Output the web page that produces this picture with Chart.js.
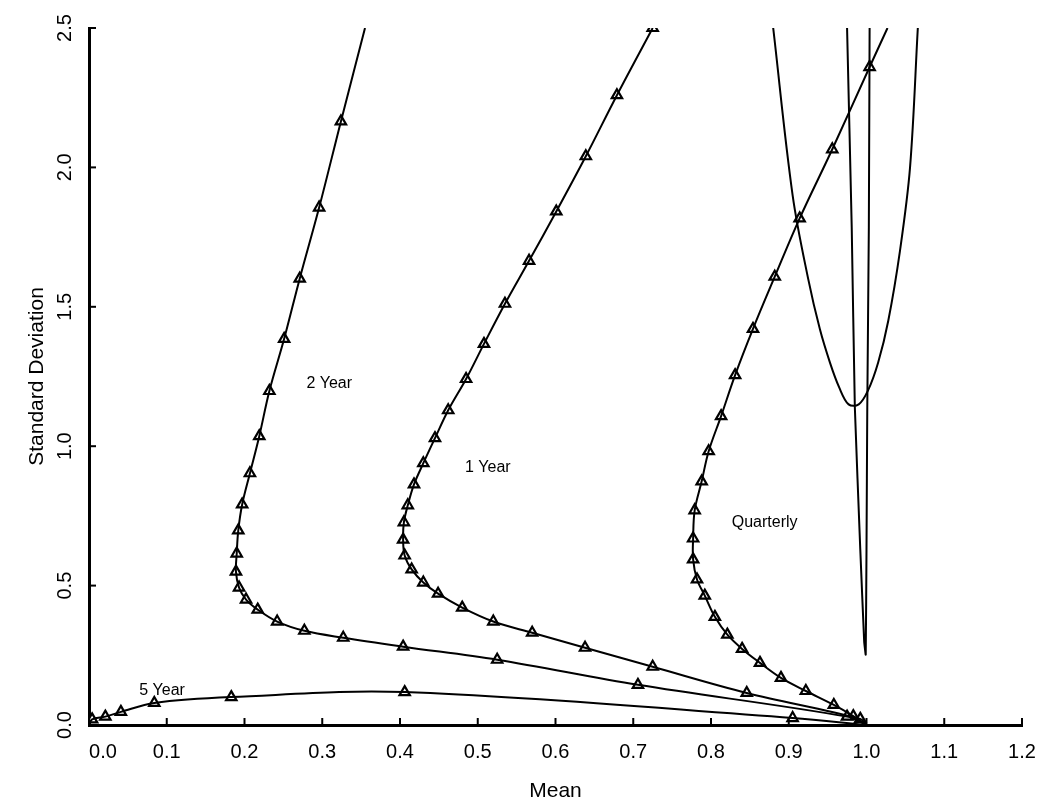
<!DOCTYPE html>
<html>
<head>
<meta charset="utf-8">
<script src="https://cdn.jsdelivr.net/npm/chart.js@4.4.0/dist/chart.umd.min.js"></script>
<style>
  html, body { margin: 0; padding: 0; background: #fff; }
  #wrap { width: 1049px; height: 808px; }
</style>
</head>
<body>
<div id="wrap"><canvas id="frontierChart" width="1049" height="808"></canvas></div>
<script>
// tick values
const xTicks = [0.0, 0.1, 0.2, 0.3, 0.4, 0.5, 0.6, 0.7, 0.8, 0.9, 1.0, 1.1, 1.2];
const yTicks = [0.0, 0.5, 1.0, 1.5, 2.0, 2.5];

// 5 Year (markers)
const fiveYearMean = [0.004, 0.021, 0.041, 0.084, 0.183, 0.406, 0.905];
const fiveYearStd  = [0.020, 0.030, 0.047, 0.079, 0.100, 0.118, 0.025];
const fiveYearStart = [0.0, 0.0];
const fiveYearEnd = [1.0, 0.0];

// 2 Year (markers)
const twoYearMean = [0.324, 0.296, 0.271, 0.251, 0.232, 0.219, 0.207, 0.197, 0.192, 0.190, 0.189,
                     0.193, 0.202, 0.217, 0.242, 0.277, 0.327, 0.404, 0.525, 0.706, 0.975];
const twoYearStd  = [2.165, 1.856, 1.601, 1.385, 1.198, 1.036, 0.903, 0.791, 0.698, 0.615, 0.550,
                     0.493, 0.450, 0.414, 0.371, 0.338, 0.313, 0.281, 0.234, 0.144, 0.030];
const twoYearStart = [0.355, 2.5];
const twoYearEnd = [1.0, 0.0];

// 1 Year (markers)
const oneYearMean = [0.725, 0.679, 0.639, 0.601, 0.566, 0.535, 0.508, 0.485, 0.462, 0.445, 0.430, 0.418,
                     0.410, 0.405, 0.404, 0.406, 0.415, 0.430, 0.449, 0.480, 0.520, 0.570, 0.638, 0.725,
                     0.846, 0.992];
const oneYearStd  = [2.500, 2.259, 2.040, 1.842, 1.665, 1.511, 1.367, 1.241, 1.129, 1.029, 0.939, 0.863,
                     0.788, 0.727, 0.665, 0.608, 0.558, 0.511, 0.471, 0.421, 0.371, 0.331, 0.277, 0.209,
                     0.115, 0.022];
const oneYearEnd = [1.0, 0.0];

// Quarterly (markers)
const quarterlyMean = [1.004, 0.956, 0.914, 0.882, 0.854, 0.831, 0.813, 0.797, 0.788, 0.779, 0.777,
                       0.777, 0.782, 0.792, 0.805, 0.821, 0.840, 0.863, 0.890, 0.922, 0.958, 0.983];
const quarterlyStd  = [2.360, 2.065, 1.817, 1.608, 1.421, 1.255, 1.108, 0.982, 0.874, 0.770, 0.669,
                       0.594, 0.522, 0.464, 0.388, 0.324, 0.273, 0.223, 0.169, 0.122, 0.072, 0.032];
const quarterlyStart = [1.027, 2.5];
const quarterlyEnd = [1.0, 0.0];

// frontier without markers (U curve on the right)
const hyperMean = [0.880, 0.905, 0.925, 0.940, 0.953, 0.965, 0.977, 0.990, 1.002, 1.015, 1.028, 1.043, 1.056, 1.066];
const hyperStd  = [2.500, 1.900, 1.600, 1.420, 1.300, 1.210, 1.150, 1.150, 1.200, 1.300, 1.450, 1.700, 2.000, 2.500];

// narrow V
const vMean = [0.975, 0.981, 0.985, 0.992, 0.997, 0.999, 1.000, 1.001, 1.003, 1.004];
const vStd  = [2.500, 1.784, 1.140, 0.630, 0.300, 0.252, 0.630, 1.140, 1.784, 2.500];

function zip(xs, ys) {
    return xs.map((x, i) => ({ x: x, y: ys[i] }));
}
function pathOf(start, xs, ys, end) {
    let pts = zip(xs, ys);
    if (start) pts.unshift({ x: start[0], y: start[1] });
    if (end) pts.push({ x: end[0], y: end[1] });
    return pts;
}

const FONT = '"Liberation Sans", Arial, sans-serif';

function lineSet(data) {
    return {
        data: data,
        showLine: true,
        borderColor: '#000',
        borderWidth: 2,
        pointRadius: 0,
        tension: 0.35,
        fill: false
    };
}
function markSet(data) {
    return {
        data: data,
        showLine: false,
        pointStyle: 'triangle',
        pointRadius: 6,
        pointBorderWidth: 2.2,
        pointBorderColor: '#000',
        pointBackgroundColor: '#fff'
    };
}

// curve names drawn inside the plot
const curveLabels = [
    { text: '2 Year', x: 0.309, y: 1.223 },
    { text: '1 Year', x: 0.513, y: 0.924 },
    { text: 'Quarterly', x: 0.869, y: 0.727 },
    { text: '5 Year', x: 0.094, y: 0.125 }
];

const axisPainter = {
    id: 'axisPainter',
    afterDraw(chart) {
        const ctx = chart.ctx;
        const xs = chart.scales.x, ys = chart.scales.y;
        const area = chart.chartArea;
        ctx.save();
        ctx.strokeStyle = '#000';
        ctx.fillStyle = '#000';
        ctx.lineWidth = 2;

        // inward tick marks
        xTicks.forEach(v => {
            const px = xs.getPixelForValue(v);
            ctx.beginPath();
            ctx.moveTo(px, area.bottom);
            ctx.lineTo(px, area.bottom - 7);
            ctx.stroke();
        });
        yTicks.forEach(v => {
            const py = ys.getPixelForValue(v);
            ctx.beginPath();
            ctx.moveTo(area.left, py);
            ctx.lineTo(area.left + 7, py);
            ctx.stroke();
        });

        // x tick labels
        ctx.font = '20px ' + FONT;
        ctx.textAlign = 'center';
        ctx.textBaseline = 'middle';
        xTicks.forEach(v => {
            const px = Math.max(xs.getPixelForValue(v), area.left + 14);
            ctx.fillText(v.toFixed(1), px, area.bottom + 27);
        });

        // y tick labels, rotated
        yTicks.forEach(v => {
            const py = ys.getPixelForValue(v);
            ctx.save();
            ctx.translate(area.left - 24, py);
            ctx.rotate(-Math.PI / 2);
            ctx.fillText(v.toFixed(1), 0, 0);
            ctx.restore();
        });

        // axis titles
        ctx.font = '21px ' + FONT;
        ctx.fillText('Mean', (area.left + area.right) / 2, area.bottom + 66);
        ctx.save();
        ctx.translate(area.left - 52, (area.top + area.bottom) / 2);
        ctx.rotate(-Math.PI / 2);
        ctx.fillText('Standard Deviation', 0, 0);
        ctx.restore();

        // curve labels
        ctx.font = '16px ' + FONT;
        curveLabels.forEach(l => {
            ctx.fillText(l.text, xs.getPixelForValue(l.x), ys.getPixelForValue(l.y));
        });
        ctx.restore();
    }
};

document.addEventListener('DOMContentLoaded', function() {
    const chartCtx = document.getElementById('frontierChart').getContext('2d');
    new Chart(chartCtx, {
        type: 'scatter',
        data: {
            datasets: [
                lineSet(pathOf(fiveYearStart, fiveYearMean, fiveYearStd, fiveYearEnd)),
                lineSet(pathOf(twoYearStart, twoYearMean, twoYearStd, twoYearEnd)),
                lineSet(pathOf(null, oneYearMean, oneYearStd, oneYearEnd)),
                lineSet(pathOf(quarterlyStart, quarterlyMean, quarterlyStd, quarterlyEnd)),
                lineSet(zip(hyperMean, hyperStd)),
                Object.assign(lineSet(zip(vMean, vStd)), { tension: 0.1 }),
                markSet(zip(fiveYearMean, fiveYearStd)),
                markSet(zip(twoYearMean, twoYearStd)),
                markSet(zip(oneYearMean, oneYearStd)),
                markSet(zip(quarterlyMean, quarterlyStd))
            ]
        },
        options: {
            responsive: false,
            animation: false,
            devicePixelRatio: 1,
            layout: { padding: { top: 28, right: 27, left: 0, bottom: 0 } },
            plugins: {
                legend: { display: false },
                tooltip: { enabled: false }
            },
            scales: {
                x: {
                    type: 'linear',
                    min: 0,
                    max: 1.2,
                    grid: { display: false },
                    border: { display: true, color: '#000', width: 3 },
                    ticks: { display: false },
                    afterFit: function(scale) { scale.height = 83; }
                },
                y: {
                    type: 'linear',
                    min: 0,
                    max: 2.5,
                    grid: { display: false },
                    border: { display: true, color: '#000', width: 3 },
                    ticks: { display: false },
                    afterFit: function(scale) { scale.width = 89; }
                }
            }
        },
        plugins: [axisPainter]
    });
});
</script>
</body>
</html>
